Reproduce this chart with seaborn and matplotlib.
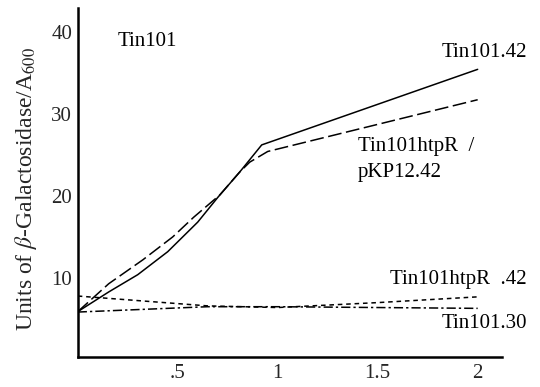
"""
Beta-galactosidase activity over time for the Tin101 strains,
redrawn from a scanned figure.
"""

import pandas as pd
import matplotlib
matplotlib.use("Agg")
import matplotlib.pyplot as plt
import seaborn as sns

sns.set_style("white")
plt.rcParams["font.family"] = ["Liberation Serif", "DejaVu Serif"]
plt.rcParams["mathtext.fontset"] = "stix"

# values
TIN101_42_X = [0, 0.155, 0.30, 0.45, 0.60, 0.70, 0.81, 0.92, 2.0]
TIN101_42_Y = [5.9, 8.3, 10.4, 13.2, 16.8, 19.8, 22.9, 26.2, 35.4]

HTPR_PKP_X = [0, 0.155, 0.325, 0.475, 0.58, 0.71, 0.81, 0.86, 0.95, 2.0]
HTPR_PKP_Y = [5.9, 9.3, 12.2, 15.0, 17.4, 20.1, 22.9, 24.1, 25.4, 31.7]

HTPR_42_X = [0, 0.65, 1.0, 1.5, 2.0]
HTPR_42_Y = [7.8, 6.6, 6.4, 7.0, 7.7]

TIN101_30_X = [0, 0.65, 1.0, 1.5, 2.0]
TIN101_30_Y = [5.85, 6.5, 6.5, 6.4, 6.3]

STRAINS = ["Tin101.42", "Tin101htpR/pKP12.42", "Tin101htpR.42", "Tin101.30"]
DASHES = {
    "Tin101.42": "",
    "Tin101htpR/pKP12.42": (9, 3),
    "Tin101htpR.42": (3, 2.5),
    "Tin101.30": (6, 2, 1.5, 2),
}
PALETTE = {s: "black" for s in STRAINS}

X_TICKS = [0.5, 1, 1.5, 2]
X_TICK_LABELS = [".5", "1", "1.5", "2"]
Y_TICKS = [10, 20, 30, 40]


def build_frame() -> pd.DataFrame:
    parts = []
    for name, xs, ys in [
        ("Tin101.42", TIN101_42_X, TIN101_42_Y),
        ("Tin101htpR/pKP12.42", HTPR_PKP_X, HTPR_PKP_Y),
        ("Tin101htpR.42", HTPR_42_X, HTPR_42_Y),
        ("Tin101.30", TIN101_30_X, TIN101_30_Y),
    ]:
        parts.append(pd.DataFrame({"time": xs, "units": ys, "strain": name}))
    return pd.concat(parts, ignore_index=True)


def main() -> None:
    df = build_frame()
    fig = plt.figure(figsize=(5.4, 3.87), dpi=100)
    ax = fig.add_axes([0.144, 0.078, 0.785, 0.902])

    sns.lineplot(
        data=df, x="time", y="units", hue="strain", style="strain",
        hue_order=STRAINS, style_order=STRAINS, palette=PALETTE, dashes=DASHES,
        estimator=None, sort=False, linewidth=1.1, legend=False, ax=ax,
    )

    ax.set_xlim(0, 2.12)
    ax.set_ylim(0.4, 42.9)
    ax.set_xticks(X_TICKS)
    ax.set_xticklabels(X_TICK_LABELS)
    ax.set_yticks(Y_TICKS)
    ax.tick_params(axis="both", length=0, labelsize=15)
    ax.tick_params(axis="x", pad=5)
    ax.tick_params(axis="y", pad=4)
    for side in ["top", "right"]:
        ax.spines[side].set_visible(False)
    for side in ["left", "bottom"]:
        ax.spines[side].set_linewidth(1.8)
        ax.spines[side].set_color("black")

    ax.set_xlabel("")
    ax.set_ylabel(r"Units of $\beta$-Galactosidase/A$_{600}$", fontsize=17)
    ax.yaxis.set_label_coords(-0.092, 0.48)

    txt = dict(fontsize=15, color="black", clip_on=False)
    ax.text(0.2, 38.8, "Tin101", ha="left", va="center", **txt)
    ax.text(2.245, 37.4, "Tin101.42", ha="right", va="center", **txt)
    ax.text(1.4, 26.0, "Tin101htpR  /", ha="left", va="center", **txt)
    ax.text(1.4, 22.9, "pKP12.42", ha="left", va="center", **txt)
    ax.text(2.245, 9.8, "Tin101htpR  .42", ha="right", va="center", **txt)
    ax.text(2.245, 4.4, "Tin101.30", ha="right", va="center", **txt)

    fig.savefig("out.png", dpi=100)
    plt.close(fig)


if __name__ == "__main__":
    main()
